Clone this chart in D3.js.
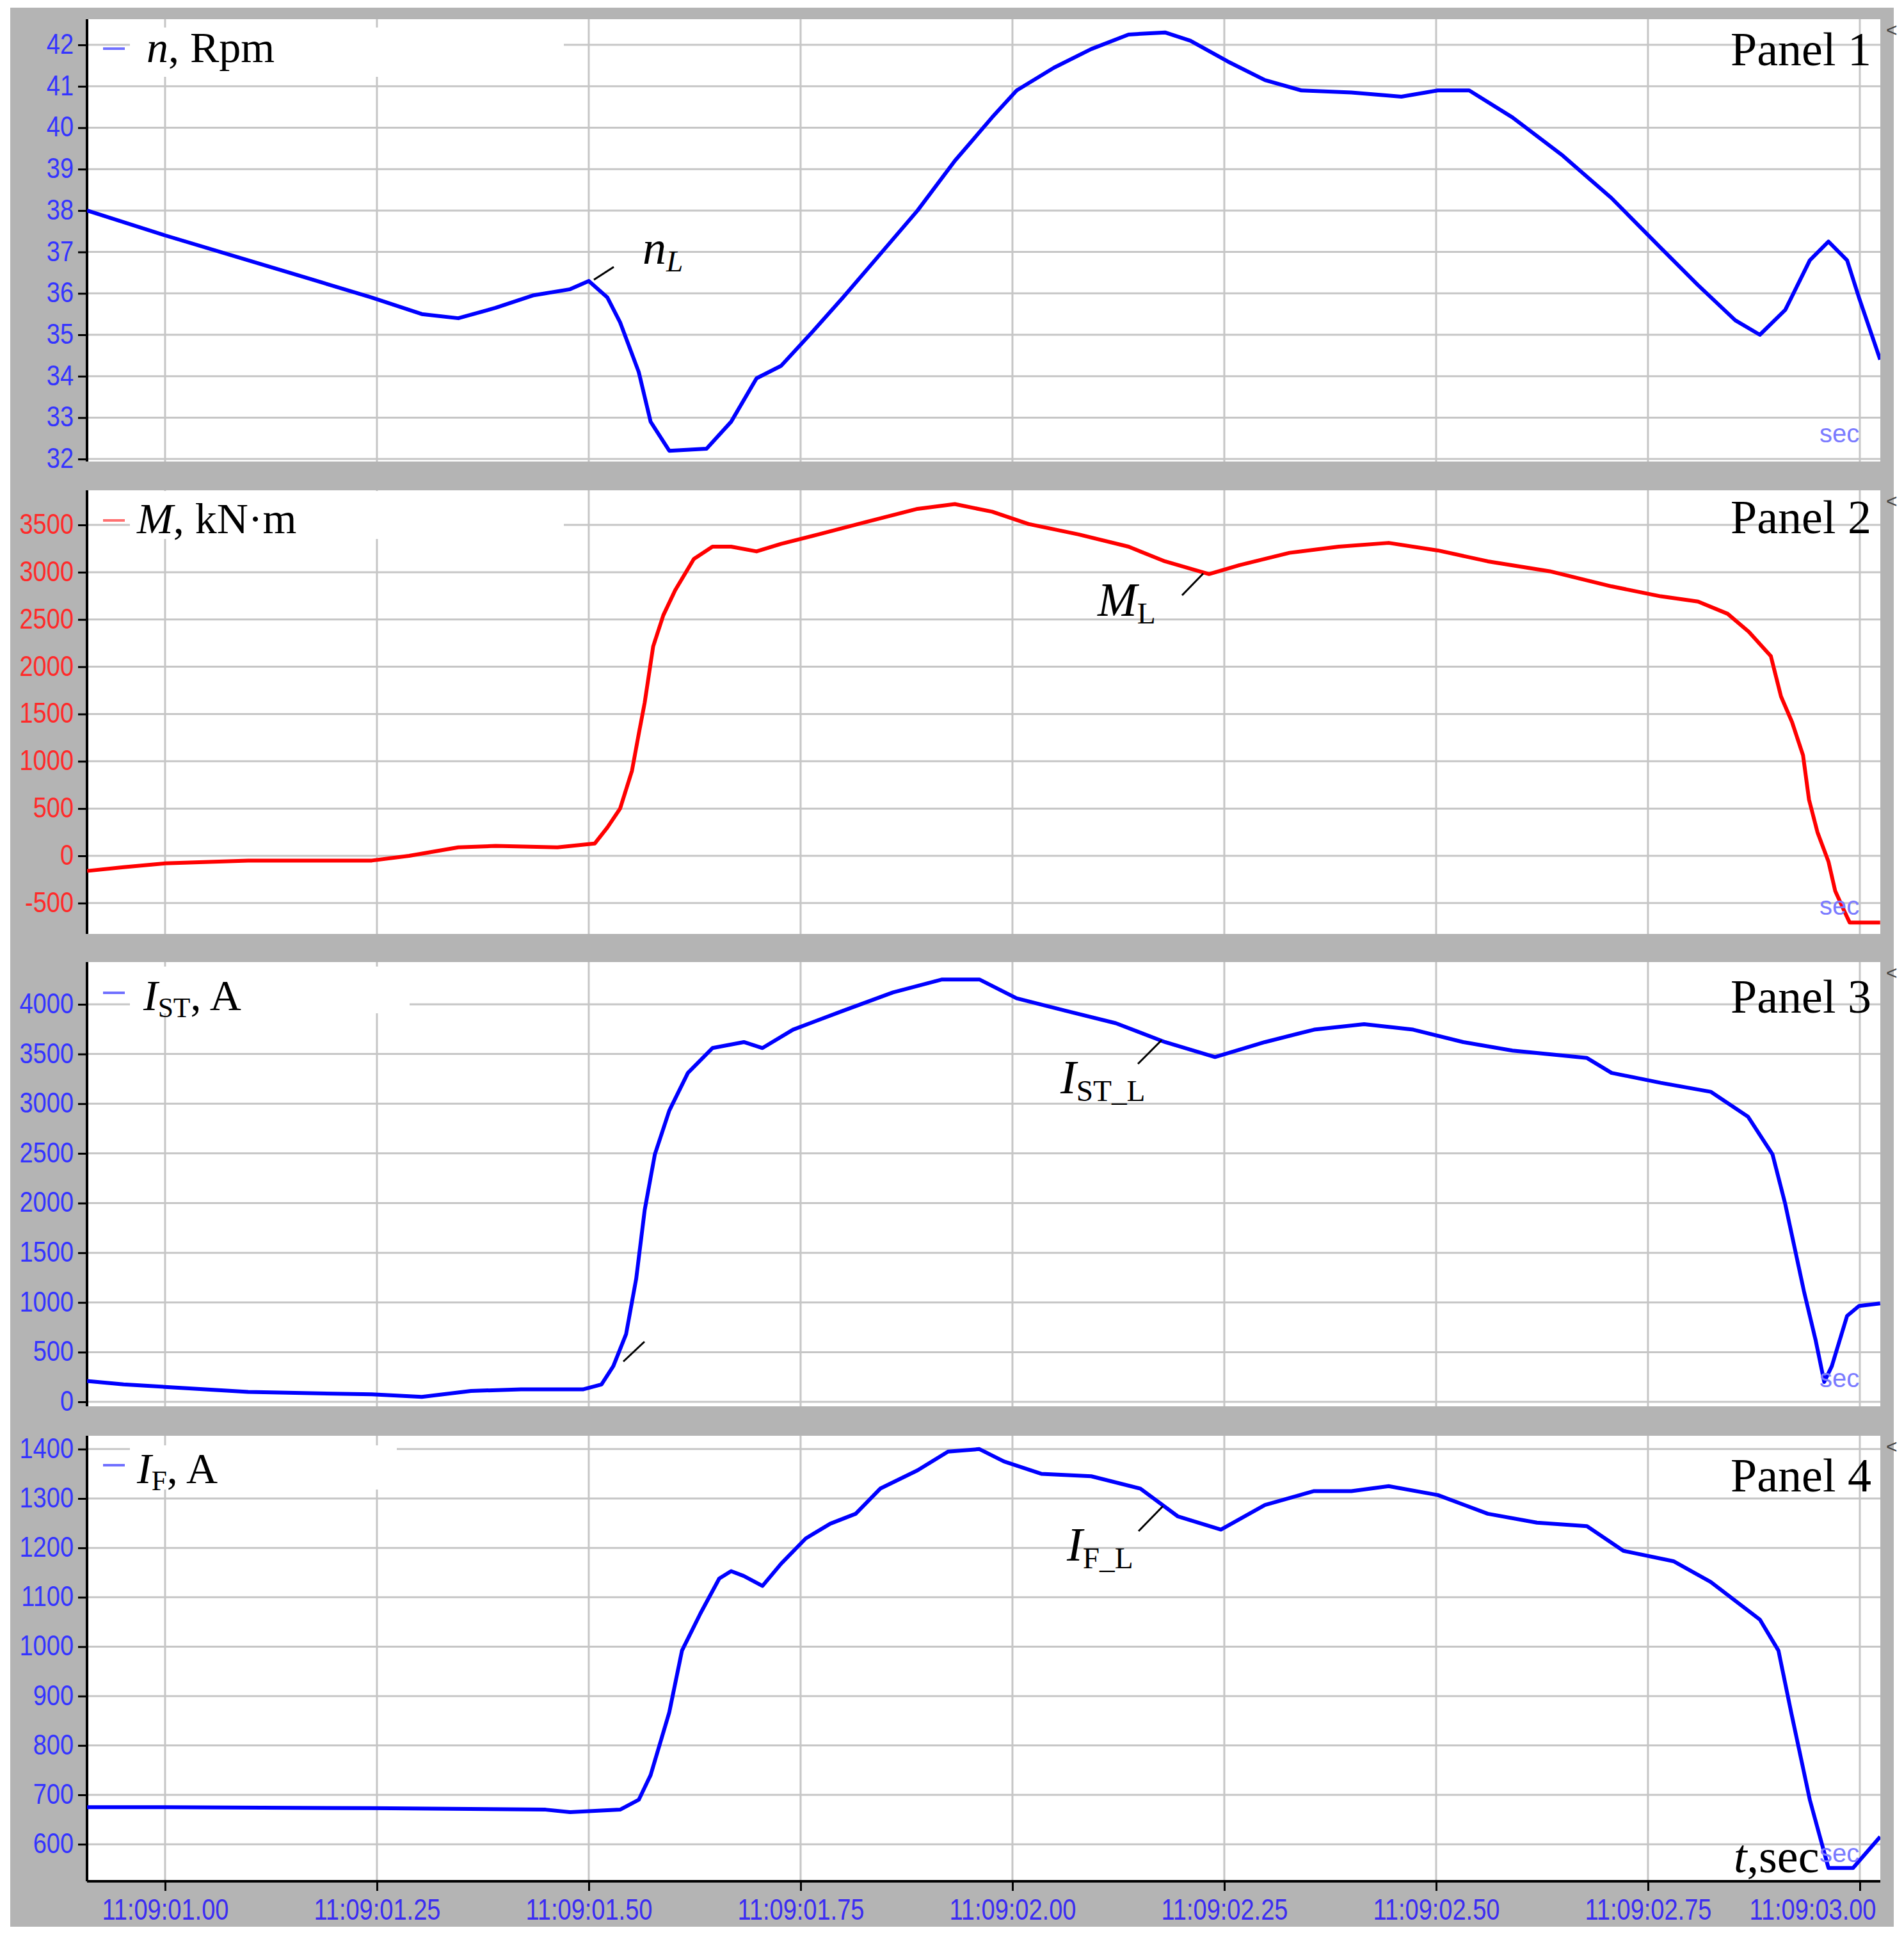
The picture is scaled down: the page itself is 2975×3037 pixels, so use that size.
<!DOCTYPE html>
<html><head><meta charset="utf-8">
<script src="https://cdn.jsdelivr.net/npm/d3@7"></script>
<style>body{margin:0;background:#fff}</style>
</head><body><svg id="c" width="2975" height="3037"></svg>
<script>
// ---------- DATA ----------
const xTicks = [0, 0.25, 0.5, 0.75, 1.0, 1.25, 1.5, 1.75, 2.0];
const xTickLabels = ["11:09:01.00","11:09:01.25","11:09:01.50","11:09:01.75","11:09:02.00","11:09:02.25","11:09:02.50","11:09:02.75","11:09:03.00"];

const nTicks = [32,33,34,35,36,37,38,39,40,41,42];
const mTicks = [-500,0,500,1000,1500,2000,2500,3000,3500];
const istTicks = [0,500,1000,1500,2000,2500,3000,3500,4000];
const ifTicks = [600,700,800,900,1000,1100,1200,1300,1400];

// time in seconds after 11:09:01.00
const nTime = [-0.092,0.000,0.098,0.171,0.244,0.303,0.346,0.390,0.434,0.478,0.500,0.522,0.537,0.559,0.573,0.595,0.639,0.668,0.698,0.727,0.763,0.800,0.844,0.888,0.932,0.976,1.005,1.049,1.093,1.137,1.180,1.210,1.254,1.298,1.341,1.400,1.459,1.502,1.539,1.590,1.648,1.707,1.765,1.809,1.853,1.882,1.912,1.941,1.963,1.985,1.999,2.024];
const nValues = [38.0,37.4,36.8,36.35,35.9,35.5,35.4,35.65,35.95,36.1,36.3,35.9,35.3,34.1,32.9,32.2,32.25,32.9,33.95,34.25,35.05,35.9,36.95,38.0,39.2,40.25,40.9,41.45,41.9,42.25,42.3,42.1,41.6,41.15,40.9,40.85,40.75,40.9,40.9,40.25,39.35,38.3,37.1,36.2,35.35,35.0,35.6,36.8,37.25,36.8,35.9,34.4];

const mTime = [-0.092,-0.049,0.000,0.098,0.244,0.288,0.346,0.390,0.463,0.507,0.522,0.537,0.551,0.559,0.566,0.576,0.588,0.602,0.624,0.646,0.668,0.698,0.727,0.771,0.829,0.888,0.932,0.976,1.019,1.078,1.137,1.180,1.232,1.268,1.327,1.385,1.444,1.502,1.561,1.634,1.707,1.765,1.809,1.844,1.869,1.895,1.907,1.920,1.933,1.940,1.950,1.963,1.971,1.983,1.988,2.024];
const mValues = [-160,-120,-80,-50,-50,0,90,105,90,130,300,500,900,1290,1620,2215,2545,2810,3140,3270,3270,3220,3300,3400,3535,3670,3720,3640,3510,3400,3270,3115,2980,3075,3205,3270,3310,3230,3115,3010,2850,2745,2690,2560,2370,2112,1686,1415,1063,596,250,-61,-373,-610,-705,-705];

const istTime = [-0.092,-0.049,0.000,0.098,0.244,0.303,0.361,0.420,0.493,0.515,0.529,0.544,0.556,0.566,0.578,0.595,0.617,0.646,0.683,0.705,0.741,0.800,0.859,0.917,0.961,1.005,1.063,1.122,1.180,1.239,1.298,1.356,1.415,1.473,1.532,1.590,1.678,1.707,1.765,1.824,1.868,1.897,1.912,1.934,1.948,1.958,1.967,1.985,1.999,2.024];
const istValues = [210,175,150,100,75,50,110,125,125,175,360,680,1240,1930,2490,2930,3310,3560,3620,3560,3745,3935,4120,4250,4250,4060,3935,3810,3620,3470,3620,3745,3800,3745,3620,3535,3460,3310,3210,3120,2870,2490,1990,1115,615,200,360,865,965,990];

const ifTime = [-0.092,0.000,0.244,0.449,0.478,0.537,0.559,0.573,0.595,0.610,0.632,0.654,0.668,0.683,0.705,0.727,0.756,0.785,0.815,0.844,0.888,0.924,0.961,0.990,1.034,1.093,1.151,1.195,1.246,1.298,1.356,1.400,1.444,1.502,1.561,1.619,1.678,1.721,1.780,1.824,1.882,1.904,1.919,1.941,1.963,1.992,2.024];
const ifValues = [675,675,673,670,665,670,690,740,867,992,1068,1138,1153,1143,1123,1168,1219,1249,1269,1320,1357,1395,1400,1375,1350,1345,1320,1264,1237,1287,1315,1315,1325,1307,1269,1251,1244,1194,1173,1131,1055,992,867,690,552,552,615];

const panelNames = ["Panel 1","Panel 2","Panel 3","Panel 4"];

// ---------- LAYOUT ----------
const plotLeft = 136, plotRight = 2938;
const x = d3.scaleLinear().domain([-0.0921, 2.0242]).range([plotLeft, plotRight]);

const layout = [
  {top:30,  bottom:721,  domain:[31.94,42.62], ticks:nTicks,   time:nTime,   vals:nValues,   line:"#0000ff", tickCol:"#3434ff", legCol:"#7070ff",
   box:[203,43,881,120], legY:76,  txtX:229, txtY:97,  lblY:102},
  {top:766, bottom:1459, domain:[-826,3866],   ticks:mTicks,   time:mTime,   vals:mValues,   line:"#ff0000", tickCol:"#ff2a2a", legCol:"#ff7070",
   box:[203,767,881,842], legY:813, txtX:214, txtY:833, lblY:833},
  {top:1503,bottom:2197, domain:[-45,4425],    ticks:istTicks, time:istTime, vals:istValues, line:"#0000ff", tickCol:"#3434ff", legCol:"#7070ff",
   box:[203,1510,640,1583], legY:1551, txtX:224, txtY:1578, lblY:1582},
  {top:2243,bottom:2939, domain:[525,1427],    ticks:ifTicks,  time:ifTime,  vals:ifValues,  line:"#0000ff", tickCol:"#3434ff", legCol:"#7070ff",
   box:[203,2258,620,2327], legY:2289, txtX:214, txtY:2317, lblY:2330}
];

const svg = d3.select("#c");
const SERIF = "'Liberation Serif','Times New Roman',serif";
const SANS = "'Liberation Sans',Arial,sans-serif";

// outer grey frame
svg.append("rect").attr("x",16).attr("y",12).attr("width",2943).attr("height",2998).attr("fill","#b4b4b4");

function rich(g, xPos, yPos, parts, size, anchor){
  const t = g.append("text").attr("x",xPos).attr("y",yPos).attr("font-family",SERIF)
    .attr("font-size",size).attr("fill","#000").attr("text-anchor",anchor||"start");
  let shifted = 0;
  parts.forEach(p=>{
    const s = t.append("tspan").text(p.t);
    if (p.i) s.attr("font-style","italic");
    if (p.sub){ s.attr("font-size", size*0.64); if(!shifted){ s.attr("dy", size*0.16); shifted=1; } }
    else if (shifted){ s.attr("dy", -size*0.16); shifted=0; }
  });
  return t;
}

layout.forEach((P,i)=>{
  const g = svg.append("g");
  const y = d3.scaleLinear().domain(P.domain).range([P.bottom, P.top]);
  g.append("rect").attr("x",plotLeft).attr("y",P.top).attr("width",plotRight-plotLeft).attr("height",P.bottom-P.top).attr("fill","#fff");
  const clipId = "clip"+i;
  svg.append("clipPath").attr("id",clipId).append("rect").attr("x",plotLeft).attr("y",P.top).attr("width",plotRight-plotLeft).attr("height",P.bottom-P.top);
  // grid
  const grid = g.append("g").attr("clip-path",`url(#${clipId})`);
  grid.selectAll("line.h").data(P.ticks).join("line").attr("class","h")
    .attr("x1",plotLeft).attr("x2",plotRight).attr("y1",d=>y(d)).attr("y2",d=>y(d))
    .attr("stroke","#c6c6c6").attr("stroke-width",3);
  grid.selectAll("line.v").data(xTicks).join("line").attr("class","v")
    .attr("x1",d=>x(d)).attr("x2",d=>x(d)).attr("y1",P.top).attr("y2",P.bottom)
    .attr("stroke","#c6c6c6").attr("stroke-width",3);
  // legend box
  g.append("rect").attr("x",P.box[0]).attr("y",P.box[1]).attr("width",P.box[2]-P.box[0]).attr("height",P.box[3]-P.box[1]).attr("fill","#fff");
  g.append("line").attr("x1",161).attr("x2",195).attr("y1",P.legY).attr("y2",P.legY).attr("stroke",P.legCol).attr("stroke-width",4);
  // y axis
  const ax = d3.axisLeft(y).tickValues(P.ticks).tickSize(14).tickPadding(7).tickFormat(d=>String(d));
  const axg = g.append("g").attr("transform",`translate(${plotLeft},0)`).call(ax);
  axg.select(".domain").remove();
  axg.selectAll(".tick line").attr("stroke","#000").attr("stroke-width",3);
  axg.selectAll(".tick text").attr("font-family",SANS).attr("font-size",38).attr("fill",P.tickCol)
    .attr("dy","0.3em").attr("transform","scale(1,1.18)");
  g.append("line").attr("x1",plotLeft).attr("x2",plotLeft).attr("y1",P.top).attr("y2",P.bottom).attr("stroke","#000").attr("stroke-width",4);
  // data line
  const pts = P.time.map((t,k)=>[t,P.vals[k]]);
  g.append("path").datum(pts).attr("clip-path",`url(#${clipId})`)
    .attr("d", d3.line().x(d=>x(d[0])).y(d=>y(d[1])))
    .attr("fill","none").attr("stroke",P.line).attr("stroke-width",6).attr("stroke-linejoin","round");
  // panel label
  g.append("text").attr("x",2924).attr("y",P.lblY).attr("text-anchor","end").attr("font-family",SERIF).attr("font-size",74).text(panelNames[i]);
  // sec label
  g.append("text").attr("x",2843).attr("y",P.bottom-30).attr("font-family",SANS).attr("font-size",40).attr("fill","#7b7bff").text("sec");
  // "<" marker
  g.append("text").attr("x",2947).attr("y",P.top+27).attr("font-family",SANS).attr("font-size",30).attr("fill","#444").text("<");
});

// legends
rich(svg, layout[0].txtX, layout[0].txtY, [{t:"n",i:1},{t:", Rpm"}], 68);
rich(svg, layout[1].txtX, layout[1].txtY, [{t:"M",i:1},{t:", kN·m"}], 68);
rich(svg, layout[2].txtX, layout[2].txtY, [{t:"I",i:1},{t:"ST",sub:1},{t:", A"}], 68);
rich(svg, layout[3].txtX, layout[3].txtY, [{t:"I",i:1},{t:"F",sub:1},{t:", A"}], 68);

// annotations
const ann = svg.append("g");
function lead(x1,y1,x2,y2){ ann.append("line").attr("x1",x1).attr("y1",y1).attr("x2",x2).attr("y2",y2).attr("stroke","#000").attr("stroke-width",3); }
lead(928,437,959,417); rich(ann,1004,412,[{t:"n",i:1},{t:"L",i:1,sub:1}],74);
lead(1880,896,1847,930); rich(ann,1715,962,[{t:"M",i:1},{t:"L",sub:1}],74);
lead(1815,1625,1778,1662); rich(ann,1657,1708,[{t:"I",i:1},{t:"ST_L",sub:1}],74);
lead(1817,2353,1779,2392); rich(ann,1667,2438,[{t:"I",i:1},{t:"F_L",sub:1}],74);
lead(974,2127,1007,2096);
rich(ann,2709,2925,[{t:"t",i:1},{t:",sec"}],74);

// x axis
const xg = svg.append("g").attr("transform",`translate(0,2939)`)
  .call(d3.axisBottom(x).tickValues(xTicks).tickSize(15).tickPadding(12).tickFormat((d,k)=>xTickLabels[k]));
xg.select(".domain").remove();
xg.selectAll(".tick line").attr("stroke","#000").attr("stroke-width",3);
xg.selectAll(".tick text").attr("font-family",SANS).attr("font-size",38).attr("fill","#3b2cf2")
  .attr("y",23).attr("transform","scale(1,1.2)");
xg.selectAll(".tick text").filter((d,k)=>k===xTicks.length-1).attr("text-anchor","end").attr("dx",-(x(2.0)-plotRight) - 7);
svg.append("line").attr("x1",plotLeft).attr("x2",plotRight).attr("y1",2939).attr("y2",2939).attr("stroke","#000").attr("stroke-width",4);
</script>
</body></html>
